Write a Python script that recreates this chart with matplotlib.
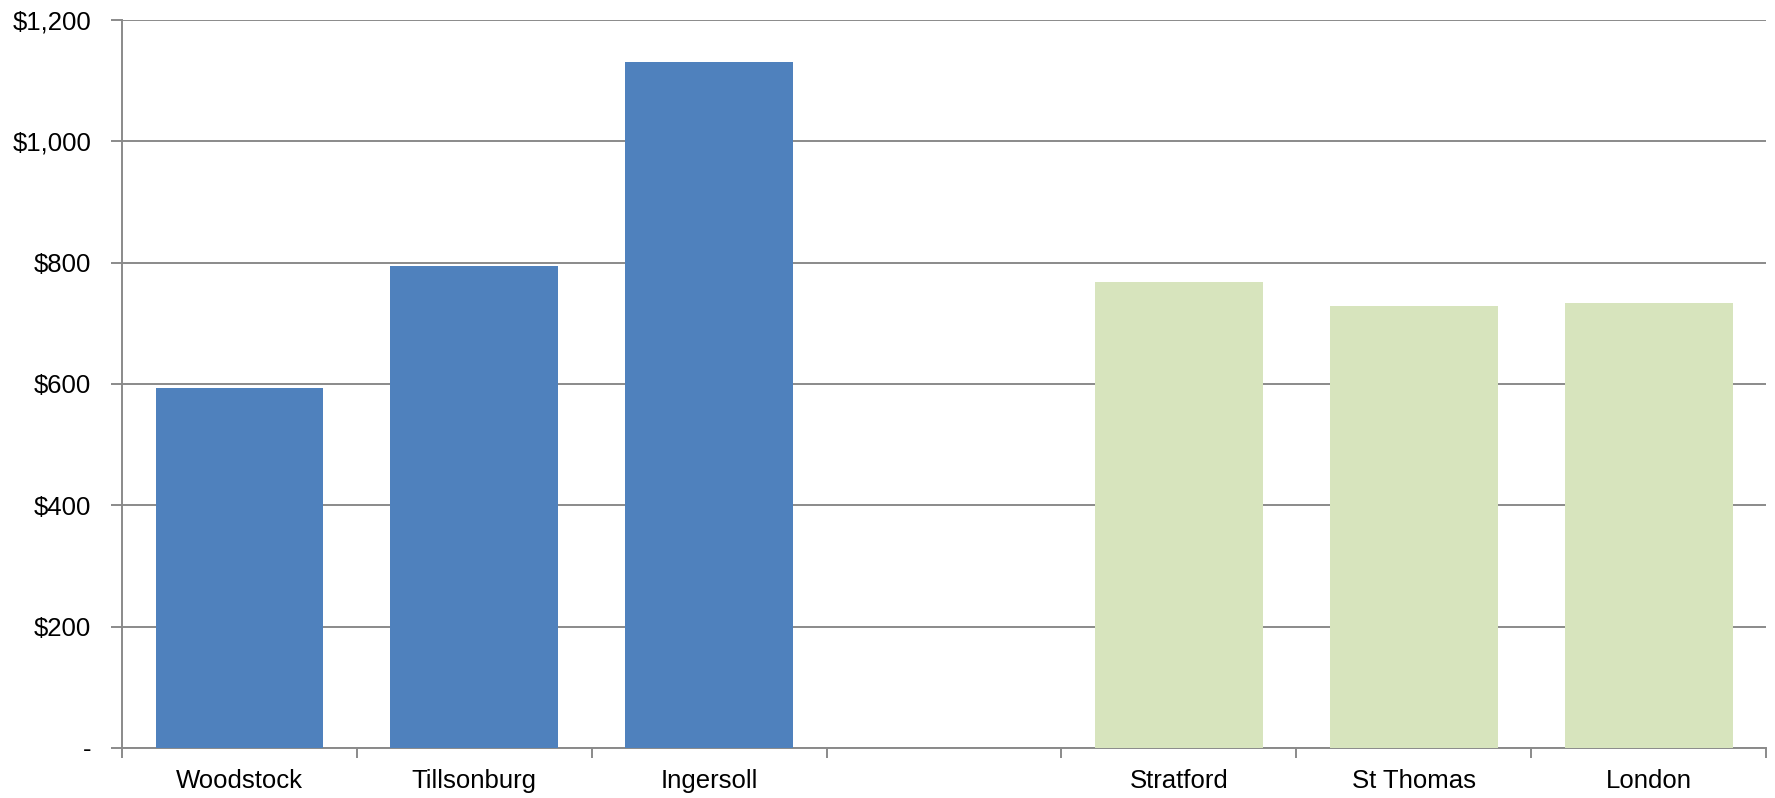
import numpy as np
import matplotlib
matplotlib.use("Agg")
import matplotlib.pyplot as plt
from matplotlib.ticker import FuncFormatter, MultipleLocator

# データ
categories = ["Woodstock", "Tillsonburg", "Ingersoll", "", "Stratford", "St Thomas", "London"]
values = [593, 794, 1130, np.nan, 768, 729, 733]
groups = ["oxford", "oxford", "oxford", None, "other", "other", "other"]

group_colors = {"oxford": "#4F81BD", "other": "#D7E4BD", None: "none"}

plt.rcParams["font.family"] = ["Liberation Sans", "DejaVu Sans"]

fig = plt.figure(figsize=(17.75, 7.98), dpi=100)
ax = fig.add_axes([0.0687, 0.0627, 0.9263, 0.9123])

x = np.arange(len(categories))
heights = [0 if np.isnan(v) else v for v in values]
ax.bar(x, heights, width=0.714,
       color=[group_colors[g] for g in groups], zorder=3)

ax.set_xlim(-0.5, len(categories) - 0.5)
ax.set_ylim(0, 1200)

grid_color = "#8A8A8A"
ax.yaxis.set_major_locator(MultipleLocator(200))
ax.yaxis.grid(True, color=grid_color, linewidth=1.4, zorder=0)
ax.yaxis.set_major_formatter(
    FuncFormatter(lambda v, p: "-" if v == 0 else f"${v:,.0f}"))

ax.set_xticks(x)
ax.set_xticklabels(categories)
ax.set_xticks(np.arange(-0.5, len(categories), 1.0), minor=True)

for side in ["top", "right"]:
    ax.spines[side].set_visible(False)
for side in ["left", "bottom"]:
    ax.spines[side].set_color(grid_color)
    ax.spines[side].set_linewidth(1.4)

ax.tick_params(axis="x", which="major", length=0, pad=15, labelsize=18.5)
ax.tick_params(axis="x", which="minor", length=7, width=1.4, color=grid_color,
               direction="out")
ax.tick_params(axis="y", length=8, width=1.4, color=grid_color,
               pad=14, labelsize=18.5)

fig.savefig("out.png", dpi=100)
